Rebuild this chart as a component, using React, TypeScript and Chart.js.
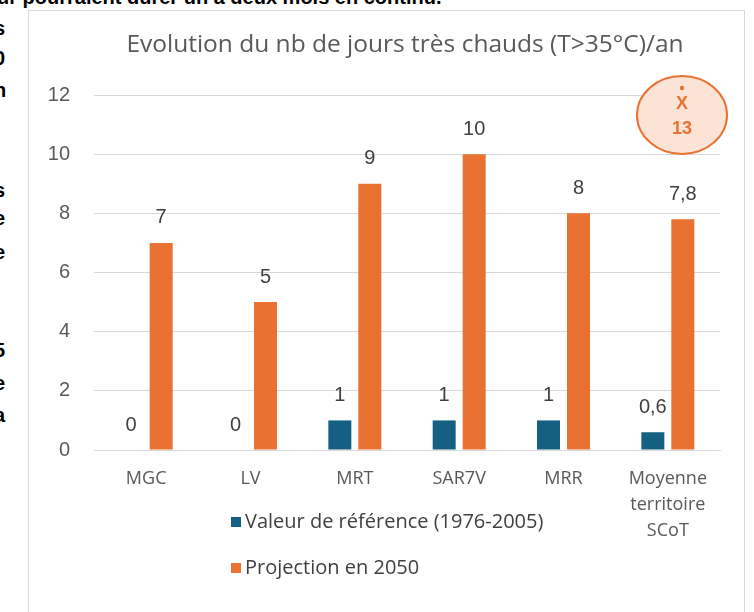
import React, { useEffect, useRef } from 'react';
import { Chart, registerables } from 'chart.js';

Chart.register(...registerables);

// ---- Data ----
const categories: (string | string[])[] = ['MGC', 'LV', 'MRT', 'SAR7V', 'MRR', ['Moyenne', 'territoire', 'SCoT']];
const referenceValues = [0, 0, 1, 1, 1, 0.6];
const projectionValues = [7, 5, 9, 10, 8, 7.8];
const seriesLabels = ['Valeur de référence (1976-2005)', 'Projection en 2050'];
const seriesColors = ['#156082', '#E97132'];
const yMin = 0;
const yMax = 12;
const yStep = 2;
const titleText = 'Evolution du nb de jours très chauds (T>35°C)/an';
const annotationSymbol = 'X';
const annotationValue = 13;

const leftFragments = ['s', '0', 'n', 's', 'e', 'e', '5', 'e', 'a'];
const leftFragmentTops = [28, 58, 90, 190, 218, 252, 350, 383, 415];
const topLine = 'ur pourraient durer un à deux mois en continu.';

const fmt = (v: number) => String(v).replace('.', ',');

const TEXT_FONT = '"Open Sans", Roboto, sans-serif';
const NUM_FONT = '"Liberation Sans", Arial, sans-serif';

const titlePlugin = {
  id: 'centeredTitle',
  afterDraw(chart: any) {
    const ctx = chart.ctx;
    const area = chart.chartArea;
    ctx.save();
    ctx.font = `24.5px ${TEXT_FONT}`;
    ctx.fillStyle = '#595959';
    ctx.textAlign = 'center';
    ctx.textBaseline = 'middle';
    ctx.fillText(titleText, (area.left + area.right) / 2 - 2, 34);
    ctx.restore();
  },
};

const dataLabelPlugin = {
  id: 'dataLabels',
  afterDatasetsDraw(chart: any) {
    const ctx = chart.ctx;
    ctx.save();
    ctx.font = `20px ${NUM_FONT}`;
    ctx.fillStyle = '#404040';
    ctx.textAlign = 'center';
    ctx.textBaseline = 'middle';
    chart.data.datasets.forEach((ds: any, i: number) => {
      const meta = chart.getDatasetMeta(i);
      meta.data.forEach((el: any, j: number) => {
        ctx.fillText(fmt(ds.data[j]), el.x, el.y - 25);
      });
    });
    ctx.restore();
  },
};

const customLegendPlugin = {
  id: 'customLegend',
  afterDraw(chart: any) {
    const ctx = chart.ctx;
    const area = chart.chartArea;
    ctx.save();
    ctx.font = `20px ${TEXT_FONT}`;
    ctx.textAlign = 'left';
    ctx.textBaseline = 'middle';
    const x0 = area.left + 137;
    const y0 = area.bottom + 72;
    chart.data.datasets.forEach((ds: any, i: number) => {
      const y = y0 + i * 46;
      ctx.fillStyle = ds.backgroundColor;
      ctx.fillRect(x0, y - 5, 10, 10);
      ctx.fillStyle = '#404040';
      ctx.fillText(ds.label, x0 + 14, y);
    });
    ctx.restore();
  },
};

const annotationPlugin = {
  id: 'ellipseNote',
  afterDraw(chart: any) {
    const ctx = chart.ctx;
    const area = chart.chartArea;
    const cx = area.right - 38;
    const cy = area.top + 20;
    ctx.save();
    ctx.beginPath();
    ctx.ellipse(cx, cy, 45, 39, 0, 0, Math.PI * 2);
    ctx.fillStyle = '#FBE3D6';
    ctx.fill();
    ctx.lineWidth = 2;
    ctx.strokeStyle = '#E97132';
    ctx.stroke();
    ctx.fillStyle = '#E97132';
    ctx.textAlign = 'center';
    ctx.textBaseline = 'middle';
    ctx.font = `bold 18px ${NUM_FONT}`;
    ctx.fillText(annotationSymbol, cx, cy - 11);
    ctx.beginPath();
    ctx.arc(cx, cy - 27, 2.2, 0, Math.PI * 2);
    ctx.fill();
    ctx.fillText(String(annotationValue), cx, cy + 14);
    ctx.restore();
  },
};

export default function App() {
  const ref = useRef<HTMLCanvasElement | null>(null);

  useEffect(() => {
    if (!ref.current) return;
    const chart = new Chart(ref.current, {
      type: 'bar',
      data: {
        labels: categories as any,
        datasets: [
          {
            label: seriesLabels[0],
            data: referenceValues,
            backgroundColor: seriesColors[0],
            categoryPercentage: 0.575,
            barPercentage: 0.767,
          },
          {
            label: seriesLabels[1],
            data: projectionValues,
            backgroundColor: seriesColors[1],
            categoryPercentage: 0.575,
            barPercentage: 0.767,
          },
        ],
      },
      options: {
        responsive: false,
        animation: false,
        devicePixelRatio: 1,
        layout: { padding: { left: 0, right: 24, top: 84, bottom: 0 } },
        plugins: {
          legend: { display: false },
          tooltip: { enabled: false },
          title: { display: false },
        },
        scales: {
          x: {
            grid: { display: false, drawTicks: false },
            border: { display: true, color: '#D9D9D9', width: 1 },
            ticks: {
              color: '#595959',
              font: { family: TEXT_FONT, size: 18, lineHeight: '26px' as any },
              padding: 16,
              maxRotation: 0,
              autoSkip: false,
            },
            afterFit: (scale: any) => {
              scale.height = 162;
            },
          },
          y: {
            min: yMin,
            max: yMax,
            grid: { color: '#D9D9D9', lineWidth: 1, drawTicks: false },
            border: { display: false },
            ticks: {
              stepSize: yStep,
              color: '#595959',
              font: { family: NUM_FONT, size: 20 },
              padding: 24,
            },
            afterFit: (scale: any) => {
              scale.width = 65;
            },
          },
        },
      },
      plugins: [titlePlugin, dataLabelPlugin, customLegendPlugin, annotationPlugin],
    });
    return () => chart.destroy();
  }, []);

  return (
    <div
      style={{
        position: 'absolute',
        left: 0,
        top: 0,
        width: 754,
        height: 612,
        overflow: 'hidden',
        background: '#ffffff',
      }}
    >
      <div
        style={{
          position: 'absolute',
          left: -3,
          top: -14,
          whiteSpace: 'nowrap',
          font: `bold 20px ${NUM_FONT}`,
          color: '#000',
        }}
      >
        {topLine}
      </div>
      {leftFragments.map((c, i) => (
        <div
          key={i}
          style={{
            position: 'absolute',
            left: -6,
            top: leftFragmentTops[i] - 12,
            font: `bold 20px ${NUM_FONT}`,
            color: '#000',
            lineHeight: '24px',
          }}
        >
          {c}
        </div>
      ))}
      <div
        style={{
          position: 'absolute',
          left: 28,
          top: 10,
          width: 715,
          height: 610,
          border: '1px solid #D9D9D9',
          background: '#fff',
        }}
      >
        <canvas ref={ref} width={715} height={601} style={{ display: 'block' }} />
      </div>
    </div>
  );
}
